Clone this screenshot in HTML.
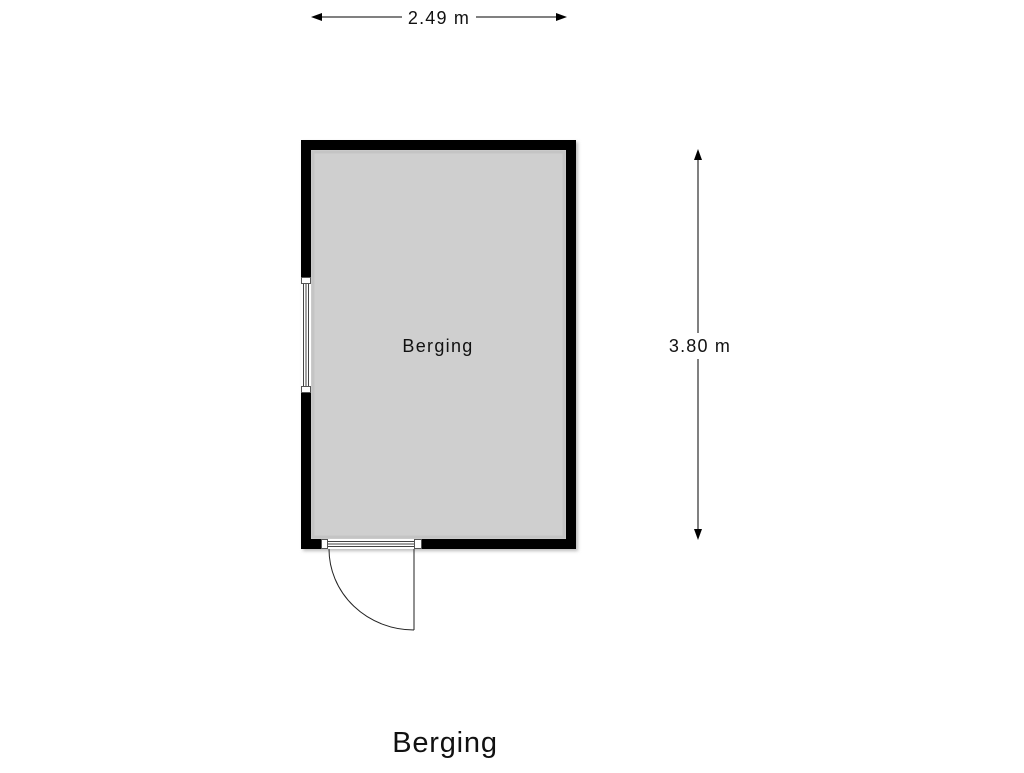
<!DOCTYPE html>
<html><head><style>body{margin:0;background:#fff}</style></head><body>
<svg width="1024" height="768" viewBox="0 0 1024 768" xmlns="http://www.w3.org/2000/svg" font-family="Liberation Sans, sans-serif">
<defs><filter id="s"><feGaussianBlur stdDeviation="1.5"/></filter></defs>
<rect x="303" y="142" width="275" height="409" fill="#bbb" filter="url(#s)"/>
<rect x="301" y="140" width="275" height="409" fill="#000"/>
<rect x="311" y="150" width="255" height="389" fill="#cfcfcf"/>
<rect x="313" y="152" width="251" height="385" fill="none" stroke="#c4c4c4" stroke-width="3"/>
<rect x="301" y="277" width="10" height="116" fill="#fff"/>
<rect x="301.5" y="277.5" width="9" height="6" fill="#fff" stroke="#555" stroke-width="1"/>
<rect x="301.5" y="386.5" width="9" height="6" fill="#fff" stroke="#555" stroke-width="1"/>
<line x1="303.5" y1="284" x2="303.5" y2="386" stroke="#444"/>
<line x1="306" y1="284" x2="306" y2="386" stroke="#444"/>
<line x1="308.5" y1="284" x2="308.5" y2="386" stroke="#444"/>
<rect x="321" y="539" width="101" height="10" fill="#fff"/>
<rect x="321.5" y="539.5" width="6" height="9" fill="#fff" stroke="#555"/>
<rect x="414.5" y="539.5" width="7" height="9" fill="#fff" stroke="#555"/>
<line x1="328" y1="541.5" x2="414" y2="541.5" stroke="#444"/>
<line x1="328" y1="544" x2="414" y2="544" stroke="#444"/>
<line x1="328" y1="546.5" x2="414" y2="546.5" stroke="#444"/>
<line x1="414" y1="549" x2="414" y2="630" stroke="#222"/>
<path d="M329 549 A85 81 0 0 0 414 630" fill="none" stroke="#222"/>
<text x="438" y="352" font-size="18" letter-spacing="1.3" text-anchor="middle" fill="#111">Berging</text>
<line x1="318" y1="17" x2="402" y2="17" stroke="#000"/>
<line x1="476" y1="17" x2="560" y2="17" stroke="#000"/>
<polygon points="311,17 322,13 322,21" fill="#000"/>
<polygon points="567,17 556,13 556,21" fill="#000"/>
<text x="439" y="24" font-size="18" letter-spacing="1.2" text-anchor="middle" fill="#111">2.49 m</text>
<line x1="698" y1="156" x2="698" y2="532" stroke="#000"/>
<polygon points="698,149 694,160 702,160" fill="#000"/>
<polygon points="698,540 694,529 702,529" fill="#000"/>
<rect x="664" y="333" width="70" height="26" fill="#fff"/>
<text x="700" y="352" font-size="18" letter-spacing="1.2" text-anchor="middle" fill="#111">3.80 m</text>
<text x="445" y="752" font-size="29" letter-spacing="0.8" text-anchor="middle" fill="#111">Berging</text>
</svg>
</body></html>
